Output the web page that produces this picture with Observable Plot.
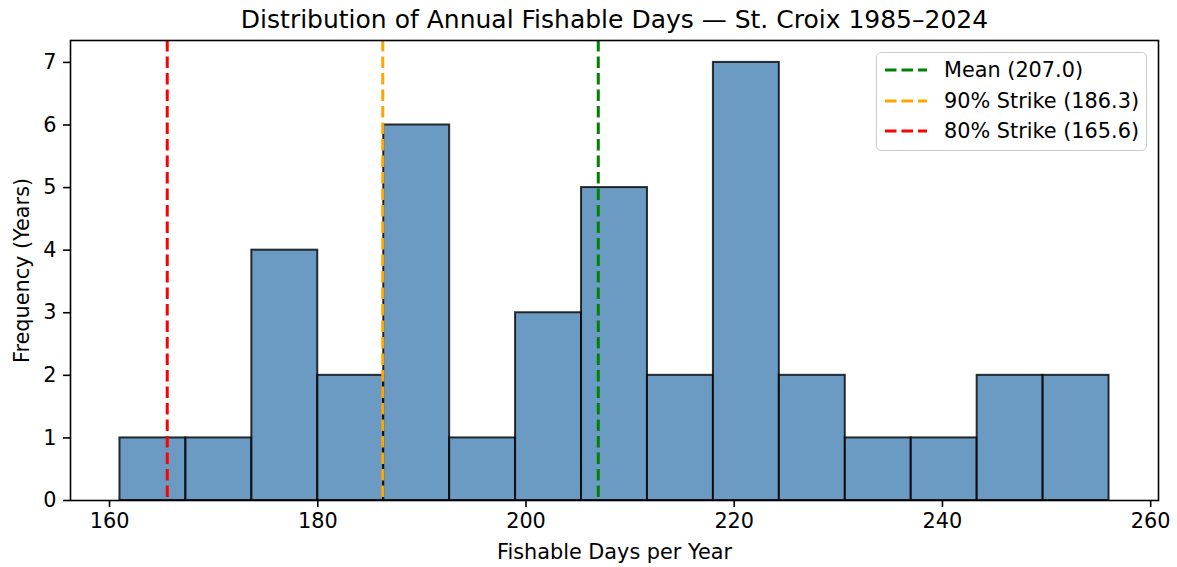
<!DOCTYPE html>
<html>
<head>
<meta charset="utf-8">
<script src="https://cdn.jsdelivr.net/npm/d3@7"></script>
<script src="https://cdn.jsdelivr.net/npm/@observablehq/plot@0.6"></script>
<style>
  html, body { margin: 0; padding: 0; background: #fff; }
  #wrap { position: relative; width: 1177px; height: 567px; font-family: "DejaVu Sans", sans-serif; }
  #legend { position: absolute; left: 876px; top: 52px; width: 271px; height: 99px;
    border: 1.4px solid #cccccc; border-radius: 5px; background: rgba(255,255,255,0.8); box-sizing: border-box; }
  .row { position: absolute; left: 0; height: 26px; display: flex; align-items: center; }
  .row svg { margin-left: 8px; }
  .row span { margin-left: 17px; font-size: 20.8px; color: #000; white-space: nowrap; }
</style>
</head>
<body>
<div id="wrap"><div id="legend"></div></div>
<script>
// Data
const binCounts = [1, 1, 4, 2, 6, 1, 3, 5, 2, 7, 2, 1, 1, 2, 2];
const binStart = 161;
const binEnd = 256;
const refLabels = ["Mean (207.0)", "90% Strike (186.3)", "80% Strike (165.6)"];
const refValues = [207.0, 186.3, 165.6];
const refColors = ["green", "orange", "red"];
const xTicks = [160, 180, 200, 220, 240, 260];
const yTicks = [0, 1, 2, 3, 4, 5, 6, 7];
const titleText = "Distribution of Annual Fishable Days — St. Croix 1985–2024";
const xLabel = "Fishable Days per Year";
const yLabel = "Frequency (Years)";

const binWidth = (binEnd - binStart) / binCounts.length;
const bins = binCounts.map((c, i) => ({x1: binStart + i * binWidth, x2: binStart + (i + 1) * binWidth, count: c}));
const refs = refValues.map((v, i) => ({value: v, label: refLabels[i], color: refColors[i]}));

const chart = Plot.plot({
  width: 1177,
  height: 567,
  marginLeft: 70,
  marginRight: 19,
  marginTop: 40,
  marginBottom: 67,
  style: {fontFamily: "DejaVu Sans, sans-serif", fontSize: "20.8px", color: "#000", background: "transparent"},
  x: {domain: [156.25, 260.75]},
  y: {domain: [0, 7.35]},
  marks: [
    Plot.rectY(bins, {x1: "x1", x2: "x2", y1: 0, y2: "count", fill: "#4682b4", fillOpacity: 0.8, stroke: "#000", strokeOpacity: 0.8, strokeWidth: 2, inset: 0}),
    Plot.ruleX(refs, {x: "value", stroke: "color", strokeWidth: 3, strokeDasharray: "11.5,5", dx: -0.6}),
    Plot.frame({stroke: "#000", strokeWidth: 1.6}),
    Plot.axisX({ticks: xTicks, tickSize: 7, tickPadding: 6, tickFormat: d => String(d), label: null, fontSize: 20.8, strokeWidth: 1.6}),
    Plot.axisY({ticks: yTicks, tickSize: 7, tickPadding: 7, tickFormat: d => String(d), label: null, fontSize: 20.8, strokeWidth: 1.6}),
    Plot.text([titleText], {frameAnchor: "top", dy: -21, fontSize: 25, fill: "#000", lineAnchor: "middle", textAnchor: "middle"}),
    Plot.text([xLabel], {frameAnchor: "bottom", dy: 52, fontSize: 20.8, fill: "#000", lineAnchor: "middle", textAnchor: "middle"}),
    Plot.text([yLabel], {frameAnchor: "left", dx: -48, rotate: -90, fontSize: 20.8, fill: "#000", lineAnchor: "middle", textAnchor: "middle"})
  ]
});
const wrap = document.getElementById("wrap");
wrap.insertBefore(chart, wrap.firstChild);

const legend = document.getElementById("legend");
refs.forEach((r, i) => {
  const row = document.createElement("div");
  row.className = "row";
  row.style.top = (4 + i * 30.5) + "px";
  row.innerHTML = `<svg width="42" height="6"><line x1="0" y1="3" x2="42" y2="3" stroke="${r.color}" stroke-width="3" stroke-dasharray="11.5,5"/></svg><span>${r.label}</span>`;
  legend.appendChild(row);
});
</script>
</body>
</html>
